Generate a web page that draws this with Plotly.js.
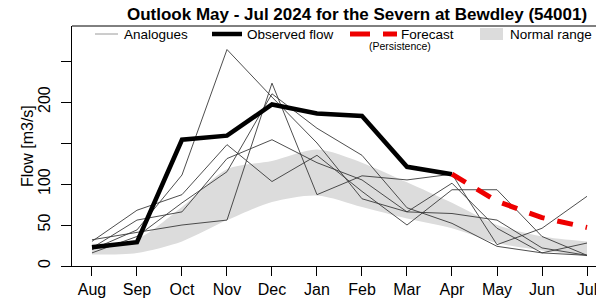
<!DOCTYPE html>
<html>
<head>
<meta charset="utf-8">
<script src="https://cdn.plot.ly/plotly-3.0.1.min.js"></script>
<style>html,body{margin:0;padding:0;background:#fff;}#chart{width:596px;height:304px;}</style>
</head>
<body>
<div id="chart"></div>
<script>
const months = ['Aug','Sep','Oct','Nov','Dec','Jan','Feb','Mar','Apr','May','Jun','Jul'];
const observed = [23, 29, 154, 159, 197, 186, 183, 121, 112, null, null, null];
const forecast = [null, null, null, null, null, null, null, null, 112, 79, 59, 47];
const normalLow  = [14, 16, 30, 56, 78, 86, 72, 58, 46, 28, 19, 12];
const normalHigh = [27, 33, 72, 118, 128, 142, 126, 102, 77, 50, 36, 30];
const analogue1 = [20, 44, 111, 264, 206, 150, 82, 66, 64, 56, 22, 13];
const analogue2 = [32, 41, 50, 56, 223, 87, 110, 105, 112, 26, 46, 85];
const analogue3 = [30, 68, 87, 148, 103, 135, 91, 50, 93, 93, 36, 13];
const analogue4 = [22, 56, 66, 131, 154, 126, 105, 66, 101, 46, 16, 28];
const analogue5 = [16, 36, 77, 115, 210, 168, 135, 71, 52, 24, 16, 13];
const analogues = [analogue1, analogue2, analogue3, analogue4, analogue5];
const yTicks = [0, 50, 100, 150, 200, 250];
const yTickText = ['0', '50', '100', '', '200', ''];

const FONT = 'Liberation Sans, Arial, sans-serif';
const traces = [];
traces.push({x: months, y: normalLow, type: 'scatter', mode: 'lines', line: {width: 0, shape: 'spline', smoothing: 0.8}, hoverinfo: 'skip', showlegend: false});
traces.push({x: months, y: normalHigh, type: 'scatter', mode: 'lines', fill: 'tonexty', fillcolor: '#dcdcdc', line: {width: 0, shape: 'spline', smoothing: 0.8}, showlegend: false});
analogues.forEach(a => traces.push({x: months, y: a, type: 'scatter', mode: 'lines', line: {color: '#3a3a3a', width: 0.9}, showlegend: false}));
traces.push({x: months, y: observed, type: 'scatter', mode: 'lines', line: {color: '#000', width: 4.5}, showlegend: false});
traces.push({x: months, y: forecast, type: 'scatter', mode: 'lines', line: {color: '#ee0000', width: 5, dash: '16px,13px'}, showlegend: false});

// plot area in px: x 72..596, y 26..266
const px = v => (v - 72) / 524;
const py = v => (266 - v) / 240;
const legendY = 34;
const shapes = [
  {type: 'line', xref: 'paper', yref: 'paper', x0: 0, x1: 1, y0: 1, y1: 1, line: {color: '#000', width: 1}},
  {type: 'line', xref: 'paper', yref: 'paper', x0: px(95), x1: px(118), y0: py(legendY), y1: py(legendY), line: {color: '#9a9a9a', width: 1}},
  {type: 'line', xref: 'paper', yref: 'paper', x0: px(212), x1: px(242), y0: py(legendY), y1: py(legendY), line: {color: '#000', width: 4.5}},
  {type: 'line', xref: 'paper', yref: 'paper', x0: px(350), x1: px(370), y0: py(legendY), y1: py(legendY), line: {color: '#ee0000', width: 5}},
  {type: 'line', xref: 'paper', yref: 'paper', x0: px(383), x1: px(397), y0: py(legendY), y1: py(legendY), line: {color: '#ee0000', width: 5}},
  {type: 'rect', xref: 'paper', yref: 'paper', x0: px(480), x1: px(503), y0: py(40), y1: py(28), fillcolor: '#dcdcdc', line: {width: 0}}
];
const ann = (text, x, y, size) => ({text: text, xref: 'paper', yref: 'paper', x: px(x), y: py(y), xanchor: 'left', yanchor: 'middle', showarrow: false, font: {family: FONT, size: size, color: '#000'}});
const annotations = [
  ann('Analogues', 122, legendY, 13.5),
  ann('Observed flow', 245, legendY, 13.5),
  ann('Forecast', 399, legendY, 13.5),
  ann('(Persistence)', 367, 46, 10.5),
  ann('Normal range', 508, legendY, 13.5),
  {text: 'Flow [m3/s]', xref: 'paper', yref: 'paper', x: px(27), y: py(146), xanchor: 'center', yanchor: 'middle', textangle: -90, showarrow: false, font: {family: FONT, size: 16, color: '#000'}}
];

const layout = {
  width: 596, height: 304,
  margin: {l: 72, r: 0, t: 26, b: 38, pad: 0},
  paper_bgcolor: '#fff', plot_bgcolor: '#fff',
  showlegend: false,
  title: {text: '<b>Outlook May - Jul 2024 for the Severn at Bewdley (54001)</b>', font: {family: FONT, size: 17, color: '#000'}, xref: 'container', x: 357/596, xanchor: 'center', yref: 'container', y: 1 - 14/304, yanchor: 'middle'},
  xaxis: {type: 'category', range: [-0.444, 11.2], tickvals: months, ticktext: months, ticks: 'outside', ticklen: 9, tickcolor: '#000', tickwidth: 1, showline: true, linecolor: '#000', linewidth: 1, showgrid: false, zeroline: false, tickfont: {family: FONT, size: 16, color: '#000'}, fixedrange: true},
  yaxis: {range: [0, 292.7], tickvals: yTicks, ticktext: yTickText, ticks: 'outside', ticklen: 10, tickcolor: '#000', tickwidth: 1, tickangle: -90, ticklabelstandoff: 5, showline: true, linecolor: '#000', linewidth: 1, showgrid: false, zeroline: false, tickfont: {family: FONT, size: 16, color: '#000'}, fixedrange: true},
  shapes: shapes,
  annotations: annotations
};
Plotly.newPlot('chart', traces, layout, {displayModeBar: false, staticPlot: true});
</script>
</body>
</html>
